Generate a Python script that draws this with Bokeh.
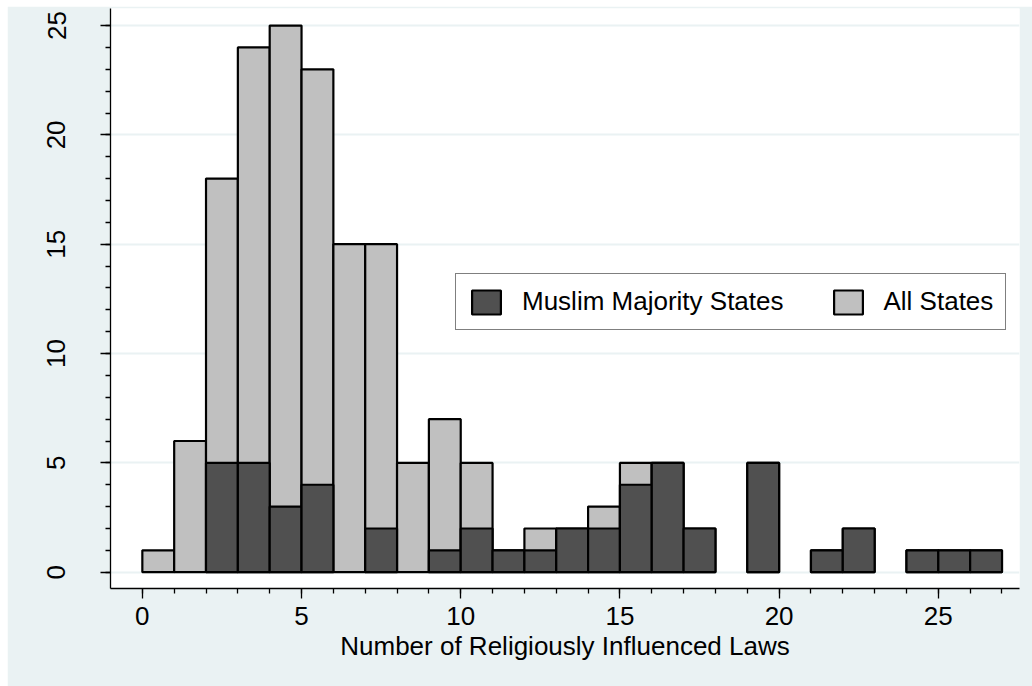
import numpy as np
from bokeh.plotting import figure
from bokeh.models import ColumnDataSource, FixedTicker, Legend, LegendItem, Range1d
from bokeh.embed import file_html
from bokeh.resources import INLINE

# Bin left edges (width 1)
bin_left = list(range(0, 27))
all_states = [1, 6, 18, 24, 25, 23, 15, 15, 5, 7, 5, 1, 2, 2, 3, 5, 5, 2, 0, 5, 0, 1, 2, 0, 1, 1, 1]
muslim_states = [0, 0, 5, 5, 3, 4, 0, 2, 0, 1, 2, 1, 1, 2, 2, 4, 5, 2, 0, 5, 0, 1, 2, 0, 1, 1, 1]
x_major = [0, 5, 10, 15, 20, 25]
y_major = [0, 5, 10, 15, 20, 25]
x_label = "Number of Religiously Influenced Laws"
series_names = ["Muslim Majority States", "All States"]

BG = "#eaf2f3"
LIGHT = "#c0c0c0"
DARK = "#505050"
FONT = "Liberation Sans"


def make_source(vals):
    l = [b for b, v in zip(bin_left, vals) if v > 0]
    t = [v for v in vals if v > 0]
    return ColumnDataSource(dict(left=l, right=[a + 1 for a in l], top=t, bottom=[0] * len(t)))


p = figure(width=1025, height=680, output_backend="svg", toolbar_location=None,
           x_range=Range1d(-1.0, 27.55), y_range=Range1d(-0.745, 25.78),
           min_border_left=103, min_border_right=13, min_border_top=2, min_border_bottom=98)
p.margin = (6, 0, 0, 7)
p.border_fill_color = BG
p.background_fill_color = "white"
p.outline_line_color = None

r_all = p.quad(left="left", right="right", top="top", bottom="bottom", source=make_source(all_states),
               fill_color=LIGHT, line_color="black", line_width=2.2)
r_mus = p.quad(left="left", right="right", top="top", bottom="bottom", source=make_source(muslim_states),
               fill_color=DARK, line_color="black", line_width=2.2)

p.xaxis.ticker = FixedTicker(ticks=x_major, minor_ticks=list(range(0, 28)))
p.yaxis.ticker = FixedTicker(ticks=y_major, minor_ticks=list(range(0, 26)))

for ax in (p.xaxis[0], p.yaxis[0]):
    ax.axis_line_color = "black"
    ax.axis_line_width = 1.3
    ax.major_tick_line_color = "black"
    ax.minor_tick_line_color = "black"
    ax.major_tick_line_width = 1.3
    ax.minor_tick_line_width = 1.3
    ax.major_tick_in = 0
    ax.minor_tick_in = 0
    ax.major_tick_out = 10
    ax.minor_tick_out = 5
    ax.major_label_text_font = FONT
    ax.major_label_text_font_size = "26px"
    ax.major_label_text_color = "black"

p.yaxis.major_label_orientation = "vertical"
p.yaxis.major_label_standoff = 35
p.xaxis.major_label_standoff = 8
p.xaxis.axis_label = x_label
p.xaxis.axis_label_text_font = FONT
p.xaxis.axis_label_text_font_size = "26px"
p.xaxis.axis_label_text_font_style = "normal"
p.xaxis.axis_label_text_color = "black"
p.xaxis.axis_label_standoff = 3

p.xgrid.visible = False
p.ygrid.grid_line_color = BG
p.ygrid.grid_line_width = 2

legend = Legend(items=[LegendItem(label=series_names[0], renderers=[r_mus]),
                       LegendItem(label=series_names[1], renderers=[r_all])],
                orientation="horizontal", location=(345, 258), margin=0,
                padding=12, spacing=46, glyph_width=36, glyph_height=30,
                label_standoff=18, label_height=30,
                label_text_font=FONT, label_text_font_size="26px", label_text_color="black",
                border_line_color="black", border_line_width=1.2,
                background_fill_color="white", background_fill_alpha=1.0)
p.add_layout(legend, "center")

open("out.html", "w").write(file_html(p, INLINE))
